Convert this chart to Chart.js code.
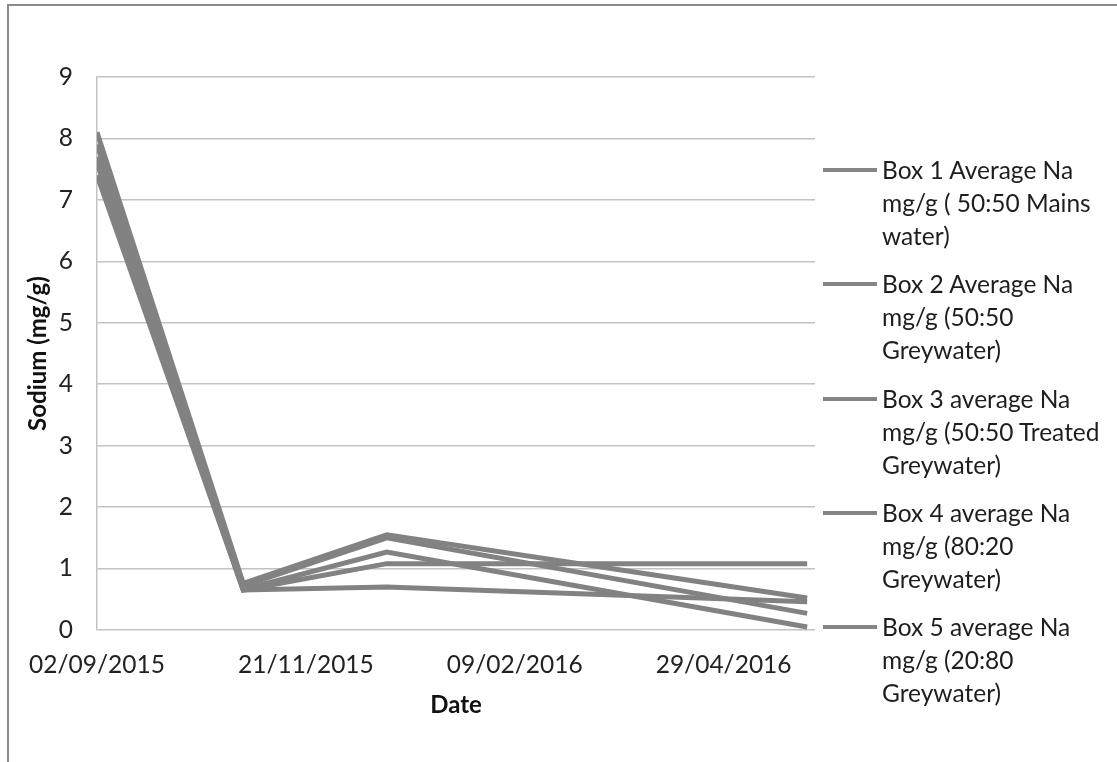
<!DOCTYPE html>
<html>
<head>
<meta charset="utf-8">
<title>Sodium</title>
<script src="https://cdn.jsdelivr.net/npm/chart.js@4.4.0/dist/chart.umd.min.js"></script>
<style>
    html, body { margin: 0; padding: 0; background: #fff; }
    #wrap { position: relative; width: 1117px; height: 762px; overflow: hidden; }
    #frame { position: absolute; left: 7px; top: 4px; width: 1200px; height: 900px;
             border-top: 2px solid #8a8a8a; border-left: 2px solid #8a8a8a; }
    #chart { position: absolute; left: 0; top: 0; }
    #legend { position: absolute; left: 823px; top: 0; font-family: Lato, sans-serif;
              font-size: 24.5px; color: #1e1e1e; }
    .item { position: absolute; left: 0; width: 290px; }
    .swatch { position: absolute; left: 0; top: 14px; width: 54px; height: 4px; background: #858585; }
    .txt { position: absolute; left: 59px; top: -1px; line-height: 33px; white-space: nowrap; }
</style>
</head>
<body>
<div id="wrap">
    <div id="frame"></div>
    <canvas id="chart" width="1117" height="762"></canvas>
    <div id="legend"></div>
</div>
<script>
// Fechas de muestreo (dd/mm/aaaa)
const sampleDates = ['02/09/2015', '28/10/2015', '22/12/2015', '31/05/2016'];

const seriesLabels = [
    ['Box 1 Average Na', 'mg/g ( 50:50 Mains', 'water)'],
    ['Box 2 Average Na', 'mg/g (50:50', 'Greywater)'],
    ['Box 3 average Na', 'mg/g (50:50 Treated', 'Greywater)'],
    ['Box 4 average Na', 'mg/g (80:20', 'Greywater)'],
    ['Box 5 average Na', 'mg/g (20:80', 'Greywater)']
];

const box1 = [8.1, 0.76, 1.55, 0.52];
const box2 = [7.9, 0.72, 1.50, 0.27];
const box3 = [7.7, 0.66, 1.27, 0.05];
const box4 = [7.6, 0.65, 1.08, 1.08];
const box5 = [7.4, 0.65, 0.70, 0.46];
const seriesValues = [box1, box2, box3, box4, box5];

const yTicks = [0, 1, 2, 3, 4, 5, 6, 7, 8, 9];
const xTickDates = ['02/09/2015', '21/11/2015', '09/02/2016', '29/04/2016'];
const xAxisEnd = '03/06/2016';

const DAY = 86400000;
function parseDate(s) {
    const [d, m, y] = s.split('/').map(Number);
    return Date.UTC(y, m - 1, d);
}
const origin = parseDate(sampleDates[0]);
function dayOffset(s) { return Math.round((parseDate(s) - origin) / DAY); }
function formatDay(v) {
    const dt = new Date(origin + v * DAY);
    const dd = String(dt.getUTCDate()).padStart(2, '0');
    const mm = String(dt.getUTCMonth() + 1).padStart(2, '0');
    return dd + '/' + mm + '/' + dt.getUTCFullYear();
}

const xs = sampleDates.map(dayOffset);
const lineColor = '#828282';
const tickFont = { family: 'Lato', size: 24.5 };
const titleFont = { family: 'Lato', size: 24, weight: 'bold' };

const datasets = seriesValues.map((vals, i) => ({
    label: seriesLabels[i].join(' '),
    data: vals.map((v, j) => ({ x: xs[j], y: v })),
    borderColor: lineColor,
    backgroundColor: lineColor,
    borderWidth: 5,
    pointRadius: 0,
    tension: 0
}));

new Chart(document.getElementById('chart').getContext('2d'), {
    type: 'line',
    data: { datasets: datasets },
    options: {
        responsive: false,
        animation: false,
        layout: { padding: { left: 0, top: 77, right: 302, bottom: 42 } },
        plugins: { legend: { display: false }, tooltip: { enabled: false } },
        scales: {
            x: {
                type: 'linear',
                min: 0,
                max: dayOffset(xAxisEnd),
                grid: { display: false, drawTicks: false },
                border: { display: false },
                afterBuildTicks: axis => { axis.ticks = xTickDates.map(d => ({ value: dayOffset(d) })); },
                ticks: {
                    padding: 20, maxRotation: 0, autoSkip: false,
                    font: tickFont, color: '#222',
                    callback: v => formatDay(v)
                },
                title: { display: true, text: 'Date', font: titleFont, color: '#111', padding: { top: 0, bottom: 0 } },
                afterFit: s => { s.height = 90; }
            },
            y: {
                min: 0,
                max: 9,
                afterBuildTicks: axis => { axis.ticks = yTicks.map(v => ({ value: v })); },
                grid: { color: '#c2c2c2', lineWidth: 1.5, drawTicks: false },
                border: { display: true, color: '#c2c2c2', width: 1.5 },
                ticks: { padding: 24, font: tickFont, color: '#222' },
                title: { display: true, text: 'Sodium (mg/g)', font: titleFont, color: '#111', padding: { top: 24, bottom: 0 } },
                afterFit: s => { s.width = 97; }
            }
        }
    }
});

// Leyenda a la derecha, con el texto partido como en el original
const legend = document.getElementById('legend');
seriesLabels.forEach((lines, i) => {
    const item = document.createElement('div');
    item.className = 'item';
    item.style.top = (170 - 16 + i * 114.3) + 'px';
    item.innerHTML = '<div class="swatch"></div><div class="txt">' + lines.join('<br>') + '</div>';
    legend.appendChild(item);
});
</script>
</body>
</html>
